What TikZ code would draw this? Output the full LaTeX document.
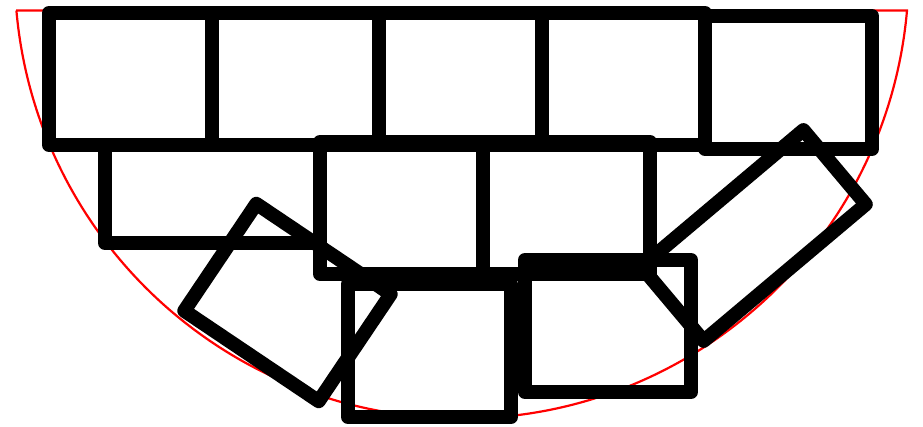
\documentclass[tikz,border=0pt]{standalone}
\begin{document}
\begin{tikzpicture}[x=1pt,y=-1pt,
  box/.style={draw=black,line width=14pt,line join=round},
  rim/.style={draw=red,line width=2.2pt}]
\useasboundingbox[fill=white] (0,0) rectangle (923,427);
% red circular segment
\draw[rim] (16,10.5) -- (907,10.5) arc[start angle=5,end angle=175,radius=447] -- cycle;
% top row
\draw[box] (49,13) rectangle (212,145);
\draw[box] (212,13) rectangle (379,145);
\draw[box] (379,13) rectangle (542,145);
\draw[box] (542,13) rectangle (705,145);
\draw[box] (705,16) rectangle (872,149);
% second row
\draw[box] (105,145) rectangle (320,243);
\draw[box] (320,142) rectangle (483,274);
\draw[box] (483,142) rectangle (650,274);
% bottom row
\draw[box] (348,284) rectangle (511,417);
\draw[box] (525,260) rectangle (691,392);
% tilted boxes
\draw[box] (256.3,203.8) -- (390.7,294.2) -- (318.7,401.2) -- (184.3,310.8) -- cycle;
\draw[box] (803.4,130.1) -- (865.8,204.3) -- (703.6,340.9) -- (641.2,266.7) -- cycle;
\end{tikzpicture}
\end{document}
